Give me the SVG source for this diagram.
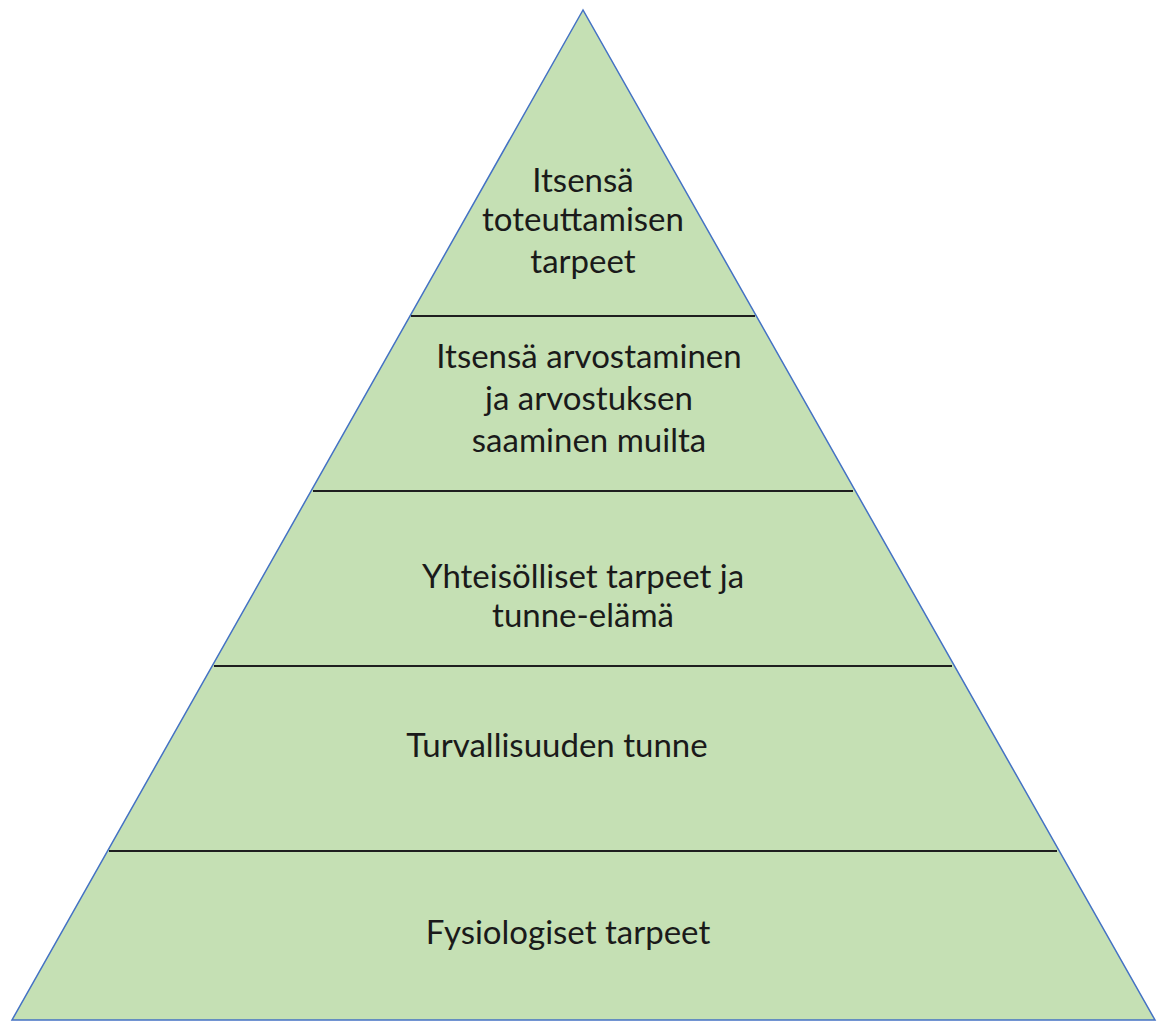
<svg xmlns="http://www.w3.org/2000/svg" width="1163" height="1021" viewBox="0 0 1163 1021">
<style>
.t{font-family:Lato,"Open Sans","Liberation Sans",sans-serif;font-size:33px;fill:#1a1a1a;text-anchor:middle}
.sep{stroke:#1f1f1f;stroke-width:2}
</style>
<rect width="1163" height="1021" fill="#ffffff"/>
<g id="pyramid">
<polygon points="583,10 12,1020 1155,1020" fill="#C5E0B4" stroke="#4472C4" stroke-width="1.5"/>
</g>
<g id="connectors">
<line class="sep" x1="411" y1="316" x2="755" y2="316"/>
<line class="sep" x1="313" y1="491" x2="853" y2="491"/>
<line class="sep" x1="214" y1="666" x2="952" y2="666"/>
<line class="sep" x1="109" y1="851" x2="1057" y2="851"/>
</g>
<g id="level5"><text class="t" x="583" y="192">Itsensä</text><text class="t" x="583" y="231">toteuttamisen</text><text class="t" x="583" y="273">tarpeet</text></g>
<g id="level4"><text class="t" x="589" y="368">Itsensä arvostaminen</text><text class="t" x="589" y="410">ja arvostuksen</text><text class="t" x="589" y="452">saaminen muilta</text></g>
<g id="level3"><text class="t" x="583" y="588">Yhteisölliset tarpeet ja</text><text class="t" x="583" y="627">tunne-elämä</text></g>
<g id="level2"><text class="t" x="557" y="757">Turvallisuuden tunne</text></g>
<g id="level1"><text class="t" x="568" y="944">Fysiologiset tarpeet</text></g>
</svg>
